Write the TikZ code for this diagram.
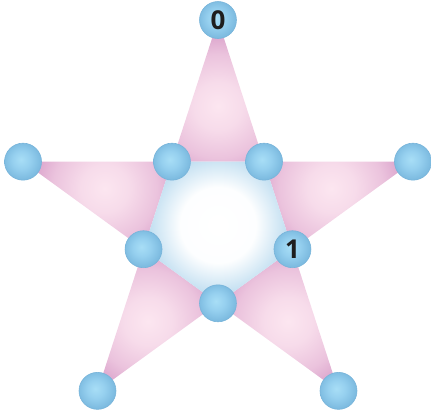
\documentclass[tikz,border=0pt]{standalone}
\usepackage{fontspec}
\setsansfont{Open Sans}
\definecolor{pinkA}{HTML}{FCE6F0}
\definecolor{pinkB}{HTML}{EBC3DD}
\definecolor{pinkC}{HTML}{C67CB6}
\definecolor{pentA}{HTML}{FFFFFF}
\definecolor{pentB}{HTML}{C2DFF1}
\definecolor{pentC}{HTML}{90C4E6}
\definecolor{ballA}{HTML}{A8DEF6}
\definecolor{ballB}{HTML}{96D0EF}
\definecolor{ballC}{HTML}{7DBBE0}
\definecolor{ballEdge}{HTML}{78B4DA}
\definecolor{digit}{HTML}{1E1E1E}
\pgfdeclareradialshading{armshade}{\pgfpoint{0bp}{0bp}}{color(0bp)=(pinkA); color(6bp)=(pinkA!70!pinkB); color(13bp)=(pinkB); color(25bp)=(pinkC); color(50bp)=(pinkC)}
\pgfdeclareradialshading{pentshade}{\pgfpoint{0bp}{0bp}}{color(0bp)=(pentA); color(11bp)=(pentA!97!pentB); color(20bp)=(pentB); color(25bp)=(pentC); color(50bp)=(pentC)}
\pgfdeclareradialshading{ballshade}{\pgfpoint{-3bp}{3bp}}{color(0bp)=(ballA); color(12bp)=(ballB); color(25bp)=(ballC); color(50bp)=(ballC)}
\tikzset{
  vertexball/.style={circle, minimum size=37pt, inner sep=0pt, shading=ballshade, draw=ballEdge, line width=0.6pt,
    font=\sffamily\bfseries\fontsize{26}{28}\selectfont, text=digit},
}
\begin{document}
\begin{tikzpicture}[x=1pt,y=-1pt]
\useasboundingbox (0,0) rectangle (431,413);
% outer tips
\coordinate (o0) at (218,20);
\coordinate (o1) at (412.97,161.65);
\coordinate (o2) at (338.5,390.85);
\coordinate (o3) at (97.5,390.85);
\coordinate (o4) at (23.03,161.65);
% inner pentagon
\coordinate (i0) at (171.98,161.65);
\coordinate (i1) at (264.02,161.65);
\coordinate (i2) at (292.47,249.2);
\coordinate (i3) at (218,303.3);
\coordinate (i4) at (143.53,249.2);
% gradient centres of arms
\coordinate (g0) at (218,106);
\coordinate (g1) at (331.2,188.4);
\coordinate (g2) at (288.0,321.3);
\coordinate (g3) at (148.0,321.3);
\coordinate (g4) at (104.8,188.4);
\coordinate (c) at (218,225);
% arms
\begin{scope}\clip (o0)--(i1)--(i0)--cycle; \shade[shading=armshade] (g0) circle (100); \end{scope}
\begin{scope}\clip (o1)--(i2)--(i1)--cycle; \shade[shading=armshade] (g1) circle (100); \end{scope}
\begin{scope}\clip (o2)--(i3)--(i2)--cycle; \shade[shading=armshade] (g2) circle (100); \end{scope}
\begin{scope}\clip (o3)--(i4)--(i3)--cycle; \shade[shading=armshade] (g3) circle (100); \end{scope}
\begin{scope}\clip (o4)--(i0)--(i4)--cycle; \shade[shading=armshade] (g4) circle (100); \end{scope}
% pentagon
\begin{scope}\clip (i0)--(i1)--(i2)--(i3)--(i4)--cycle; \shade[shading=pentshade] (c) circle (86); \end{scope}
% vertices
\node[vertexball] (n0) at (o0) {0};
\node[vertexball] (n1) at (o1) {};
\node[vertexball] (n2) at (o2) {};
\node[vertexball] (n3) at (o3) {};
\node[vertexball] (n4) at (o4) {};
\node[vertexball] (m0) at (i0) {};
\node[vertexball] (m1) at (i1) {};
\node[vertexball] (m2) at (i2) {1};
\node[vertexball] (m3) at (i3) {};
\node[vertexball] (m4) at (i4) {};
\end{tikzpicture}
\end{document}
